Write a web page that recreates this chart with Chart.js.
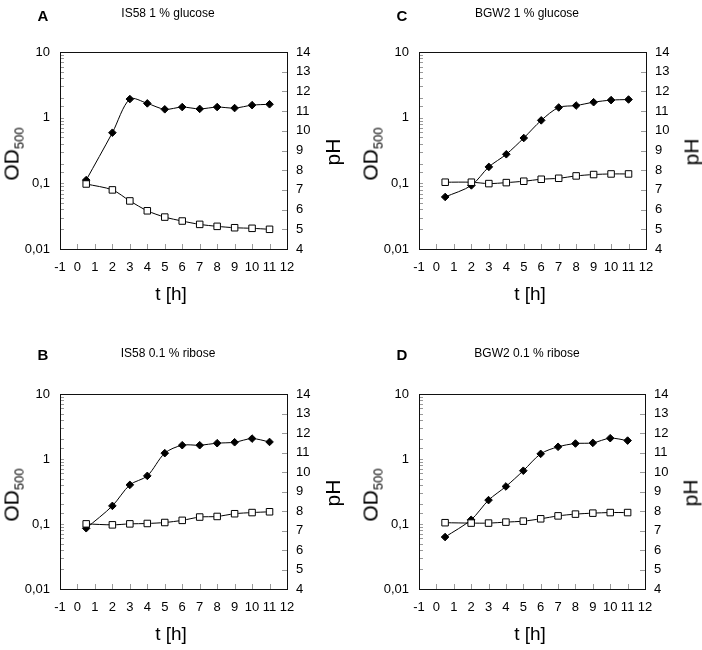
<!DOCTYPE html>
<html>
<head>
<meta charset="utf-8">
<script src="https://cdn.jsdelivr.net/npm/chart.js@4"></script>
<style>
  body { margin: 0; background: #fff; }
  #page { position: relative; width: 702px; height: 650px; background: #fff;
          font-family: "Liberation Sans", Arial, sans-serif; color: #000; }
  canvas { position: absolute; }
  .txt { position: absolute; white-space: nowrap; line-height: 1; }
  .letter { font-weight: bold; font-size: 15px; transform: translate(-50%, -50%); }
  .title { font-size: 12px; transform: translate(-50%, -50%); }
  .xtitle { font-size: 19px; transform: translate(-50%, -50%); }
  .ytitle { font-size: 21px; transform: translate(-50%, -50%) rotate(-90deg); }
  .ytitle sub { font-size: 13px; vertical-align: -5px; }
</style>
</head>
<body>
<div id="page"></div>
<script>
// sampling times (h)
const timeH = [0.5, 2, 3, 4, 5, 6, 7, 8, 9, 10, 11];

// OD500 (filled diamonds) and pH (open squares) per panel
const odA = [0.112, 0.59, 1.92, 1.65, 1.34, 1.45, 1.36, 1.45, 1.40, 1.55, 1.60];
const phA = [7.3, 7.0, 6.44, 5.94, 5.62, 5.42, 5.25, 5.15, 5.08, 5.05, 5.0];
const odB = [0.086, 0.19, 0.40, 0.55, 1.23, 1.63, 1.63, 1.75, 1.81, 2.06, 1.83];
const phB = [7.34, 7.29, 7.34, 7.36, 7.41, 7.52, 7.69, 7.72, 7.86, 7.92, 7.96];
const odC = [0.062, 0.093, 0.178, 0.277, 0.49, 0.91, 1.43, 1.53, 1.72, 1.85, 1.89];
const phC = [7.39, 7.39, 7.32, 7.37, 7.44, 7.54, 7.59, 7.71, 7.78, 7.81, 7.81];
const odD = [0.063, 0.116, 0.233, 0.378, 0.66, 1.20, 1.54, 1.73, 1.77, 2.09, 1.92];
const phD = [7.40, 7.38, 7.38, 7.43, 7.48, 7.60, 7.75, 7.84, 7.89, 7.92, 7.92];

const panelLetters = ['A', 'B', 'C', 'D'];
const panelTitles = ['IS58 1 % glucose', 'IS58 0.1 % ribose', 'BGW2 1 % glucose', 'BGW2 0.1 % ribose'];

// tick labels
const odTickValues = [0.01, 0.1, 1, 10];
const odTickLabels = ['0,01', '0,1', '1', '10'];
const xMin = -1, xMax = 12;
const phMin = 4, phMax = 14;

// layout of each panel on the page (canvas box + wanted plot area)
const panels = [
  { od: odA, ph: phA, canvas: [0, 0, 351, 320],   area: [60, 52, 287, 249] },
  { od: odB, ph: phB, canvas: [0, 320, 351, 330], area: [60, 394, 287, 589] },
  { od: odC, ph: phC, canvas: [351, 0, 351, 320], area: [419, 52, 646, 249] },
  { od: odD, ph: phD, canvas: [351, 320, 351, 330], area: [419, 394, 645, 589] },
];

const page = document.getElementById('page');

function addText(cls, html, x, y) {
  const d = document.createElement('div');
  d.className = 'txt ' + cls;
  d.innerHTML = html;
  d.style.left = x + 'px';
  d.style.top = y + 'px';
  page.appendChild(d);
}

// inner tick marks + frame, like the original spreadsheet plot
const frameTicks = {
  id: 'frameTicks',
  beforeDatasetsDraw(chart) {
    const { ctx, chartArea: a, scales } = chart;
    ctx.save();
    ctx.strokeStyle = '#9a9a9a';
    ctx.lineWidth = 1;
    ctx.beginPath();
    scales.x.ticks.forEach(t => {
      const px = Math.round(scales.x.getPixelForValue(t.value)) + 0.5;
      ctx.moveTo(px, a.bottom);
      ctx.lineTo(px, a.bottom - 5);
    });
    scales.y.ticks.forEach(t => {
      const py = Math.round(scales.y.getPixelForValue(t.value)) + 0.5;
      ctx.moveTo(a.left, py);
      ctx.lineTo(a.left + 4, py);
    });
    scales.y2.ticks.forEach(t => {
      const py = Math.round(scales.y2.getPixelForValue(t.value)) + 0.5;
      ctx.moveTo(a.right, py);
      ctx.lineTo(a.right - 5, py);
    });
    ctx.stroke();
    ctx.strokeStyle = '#111';
    ctx.strokeRect(Math.round(a.left) + 0.5, Math.round(a.top) + 0.5,
      Math.round(a.right - a.left), Math.round(a.bottom - a.top));
    ctx.restore();
  }
};

const tickFont = { family: '"Liberation Sans", Arial, sans-serif', size: 13 };

panels.forEach((p, i) => {
  const [cx, cy, cw, ch] = p.canvas;
  const [l, t, r, b] = p.area;
  const cv = document.createElement('canvas');
  cv.width = cw; cv.height = ch;
  cv.style.left = cx + 'px'; cv.style.top = cy + 'px';
  page.appendChild(cv);

  const leftW = l - cx, rightW = cx + cw - r, bottomH = cy + ch - b, topPad = t - cy;

  new Chart(cv, {
    type: 'line',
    data: {
      datasets: [
        {
          data: timeH.map((x, k) => ({ x, y: p.ph[k] })),
          yAxisID: 'y2',
          borderColor: '#000',
          borderWidth: 1,
          pointStyle: 'rect',
          pointRadius: 4.6,
          pointBackgroundColor: '#fff',
          pointBorderColor: '#000',
          pointBorderWidth: 1,
          tension: 0.3,
        },
        {
          data: timeH.map((x, k) => ({ x, y: p.od[k] })),
          yAxisID: 'y',
          borderColor: '#000',
          borderWidth: 1,
          pointStyle: 'rectRot',
          pointRadius: 3.8,
          pointBackgroundColor: '#000',
          pointBorderColor: '#000',
          pointBorderWidth: 1,
          tension: 0.3,
        },
      ],
    },
    options: {
      responsive: false,
      animation: false,
      layout: { padding: { top: topPad, left: 0, right: 0, bottom: 0 } },
      plugins: { legend: { display: false }, tooltip: { enabled: false } },
      scales: {
        x: {
          type: 'linear',
          min: xMin, max: xMax,
          grid: { display: false, drawTicks: false },
          border: { display: false },
          ticks: { stepSize: 1, autoSkip: false, maxRotation: 0, padding: 11, color: '#000', font: tickFont },
          afterFit(s) { s.height = bottomH; },
        },
        y: {
          type: 'logarithmic',
          position: 'left',
          min: odTickValues[0], max: odTickValues[odTickValues.length - 1],
          grid: { display: false, drawTicks: false },
          border: { display: false },
          ticks: {
            autoSkip: false, padding: 10, color: '#000', font: tickFont,
            callback(v) {
              const k = odTickValues.findIndex(tv => Math.abs(Math.log10(v) - Math.log10(tv)) < 1e-6);
              return k >= 0 ? odTickLabels[k] : '';
            },
          },
          afterFit(s) { s.width = leftW; },
        },
        y2: {
          type: 'linear',
          position: 'right',
          min: phMin, max: phMax,
          grid: { display: false, drawTicks: false },
          border: { display: false },
          ticks: { stepSize: 1, autoSkip: false, padding: 9, color: '#000', font: tickFont },
          afterFit(s) { s.width = rightW; },
        },
      },
    },
    plugins: [frameTicks],
  });

  // text around the plot
  const plotH = b - t;
  addText('letter', panelLetters[i], l - 17, t - (i % 2 ? 40 : 37));
  addText('title', panelTitles[i], l + 108, t - (i % 2 ? 41 : 39));
  addText('ytitle', 'OD<sub>500</sub>', l - 47, t + plotH * 0.52);
  addText('ytitle', 'pH', r + 45, t + plotH * 0.51);
  addText('xtitle', 't [h]', l + 111, b + 44);
});
</script>
</body>
</html>
